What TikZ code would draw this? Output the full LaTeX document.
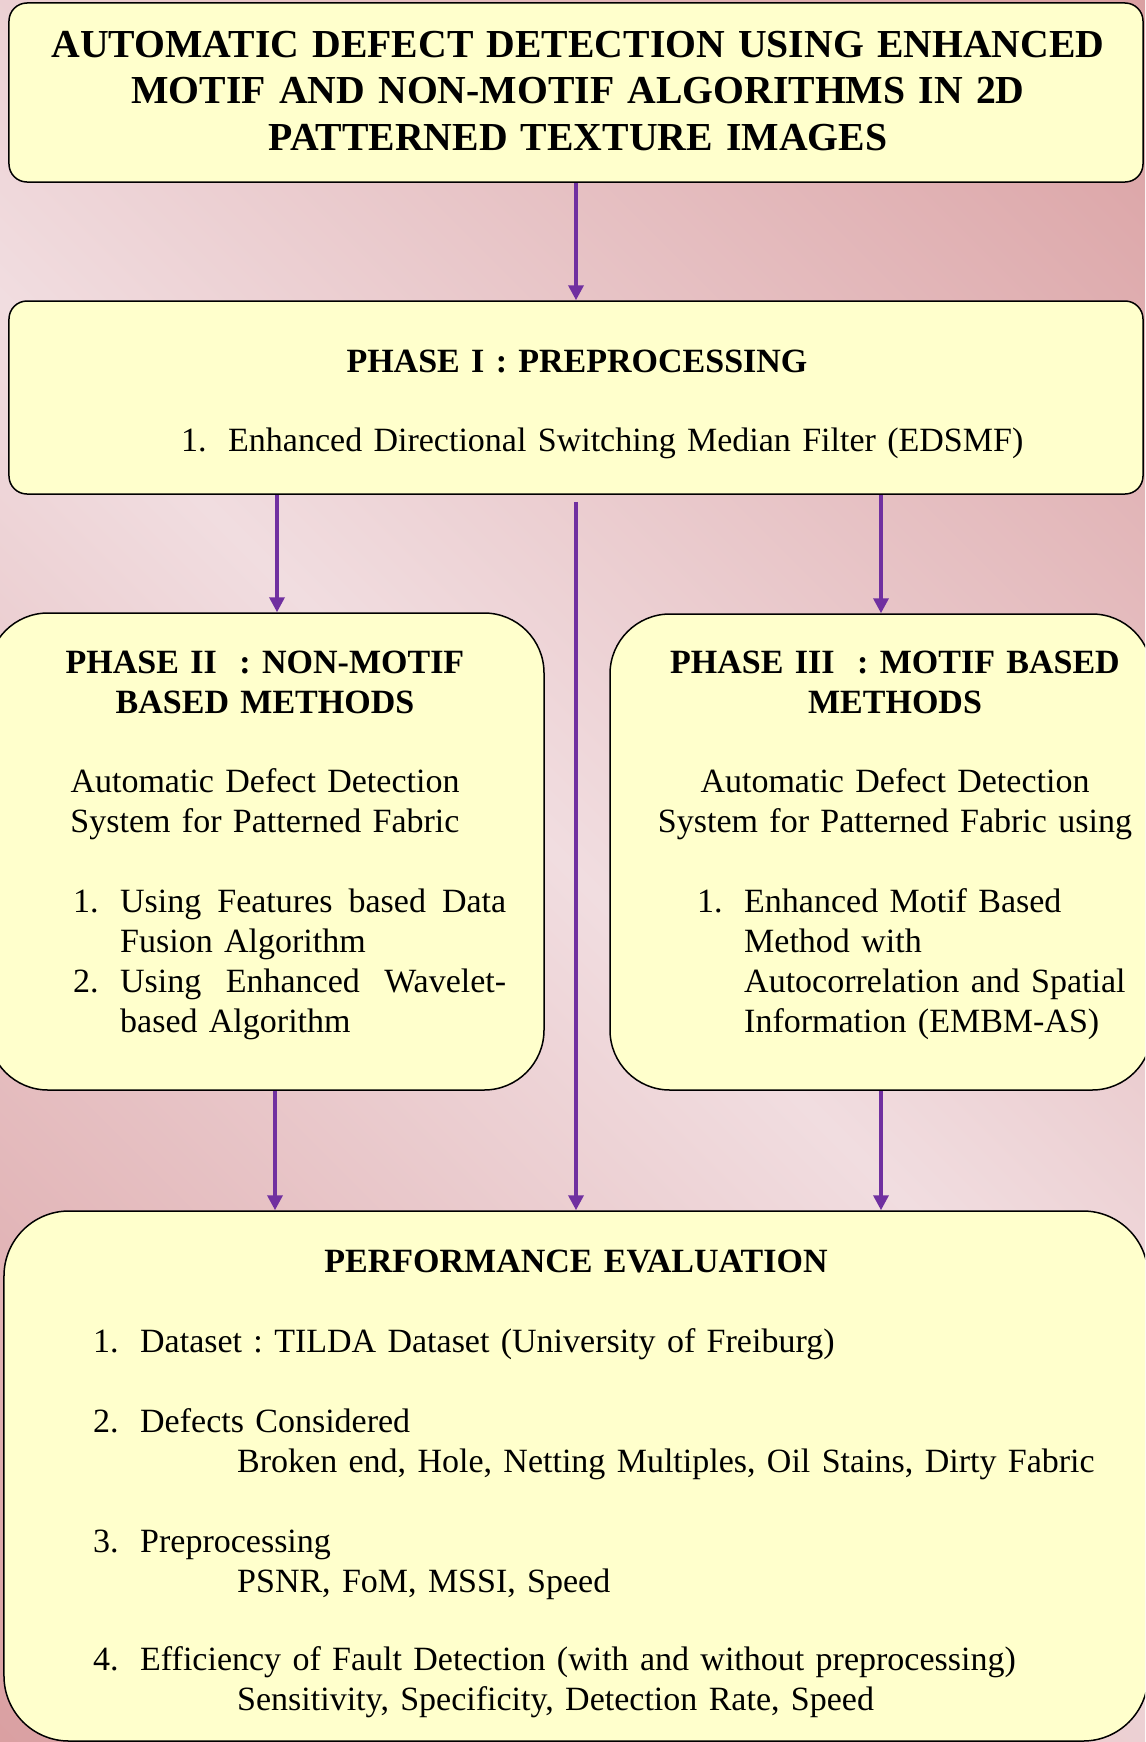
\documentclass[tikz,border=0pt]{standalone}
\usepackage{fontspec}
\setmainfont{Liberation Serif}
\usetikzlibrary{arrows.meta}
\setlength{\parindent}{0pt}
\frenchspacing
\definecolor{boxfill}{RGB}{255,255,204}
\definecolor{flowpurple}{RGB}{112,48,160}
\definecolor{bgdark}{RGB}{218,160,162}
\definecolor{bglight}{RGB}{241,221,224}
\pgfdeclareverticalshading{bgshade}{100bp}{color(0bp)=(bgdark); color(14.6bp)=(bgdark); color(50bp)=(bglight); color(85.4bp)=(bgdark); color(100bp)=(bgdark)}
\newcommand{\numlabel}[1]{\makebox[47bp][l]{#1}}
\newcommand{\hang}{\hspace*{47bp}}
\tikzset{
  bigbox/.style={draw=black, line width=1.5bp, fill=boxfill, rounded corners=60bp, inner sep=0pt},
  flatbox/.style={bigbox, rounded corners=18bp},
  txt/.style={inner sep=0pt, font=\fontsize{34bp}{40bp}\selectfont},
  head/.style={txt, font=\fontsize{34bp}{40bp}\selectfont\bfseries, align=center, text width=520bp}
}
\tikzstyle{arrow} = [line width=3.5bp, flowpurple, -{Triangle[width=15bp,length=15bp]}]

\begin{document}
\begin{tikzpicture}[x=1bp, y=-1bp]
  \useasboundingbox (0,0) rectangle (1145,1742);
  \clip (0,0) rectangle (1145,1742);
  \shade[shading=bgshade, shading angle=-45] (0,0) rectangle (1145,1742);

  \node[flatbox, minimum width=1134bp, minimum height=179bp] (title) at (576,92.5) {};
  \node[head, text width=1100bp, font=\fontsize{39.7bp}{46.6bp}\selectfont\bfseries, anchor=base] (titletxt) at (578,57)
    {AUTOMATIC DEFECT DETECTION USING ENHANCED\\MOTIF AND NON-MOTIF ALGORITHMS IN 2D\\PATTERNED TEXTURE IMAGES};

  \node[flatbox, minimum width=1134bp, minimum height=193bp] (ph1) at (576,397.5) {};
  \node[head, anchor=base] (ph1head) at (577,372.5) {PHASE I : PREPROCESSING};
  \node[txt, text width=900bp, align=left, anchor=base west] (ph1list) at (181,451)
    {\numlabel{1.}Enhanced Directional Switching Median Filter (EDSMF)};

  \node[bigbox, minimum width=556bp, minimum height=477bp] (ph2) at (266,851.5) {};
  \node[head, anchor=base] (ph2head) at (265,673.5) {PHASE II\ \ : NON-MOTIF\\BASED METHODS};
  \node[txt, text width=480bp, align=center, anchor=base] (ph2desc) at (265,792.5)
    {Automatic Defect Detection\\System for Patterned Fabric};
  \node[txt, text width=433bp, align=left, anchor=base west] (ph2list) at (73,912.5)
    {\numlabel{1.}\makebox[386bp][l]{Using\hfill Features\hfill based\hfill Data}\\
     \hang Fusion Algorithm\\
     \numlabel{2.}\makebox[386bp][l]{Using\hfill Enhanced\hfill Wavelet-}\\
     \hang based Algorithm};

  \node[bigbox, minimum width=542bp, minimum height=476bp] (ph3) at (881,852) {};
  \node[head, anchor=base] (ph3head) at (895,673.5) {PHASE III\ \ : MOTIF BASED\\METHODS};
  \node[txt, text width=500bp, align=center, anchor=base] (ph3desc) at (895,792.5)
    {Automatic Defect Detection\\System for Patterned Fabric using};
  \node[txt, text width=440bp, align=left, anchor=base west] (ph3list) at (697,912.5)
    {\numlabel{1.}Enhanced Motif Based\\
     \hang Method with\\
     \hang Autocorrelation and Spatial\\
     \hang Information (EMBM-AS)};

  \node[bigbox, rounded corners=65bp, minimum width=1144bp, minimum height=530bp] (perf) at (576,1476) {};
  \node[head, text width=1000bp, anchor=base] (perfhead) at (576,1272.5) {PERFORMANCE EVALUATION};
  \node[txt, text width=1040bp, align=left, anchor=base west] (perflist) at (93,1352.5)
    {\numlabel{1.}Dataset : TILDA Dataset (University of Freiburg)\\[40bp]
     \numlabel{2.}Defects Considered\\
     \hspace*{144bp}Broken end, Hole, Netting Multiples, Oil Stains, Dirty Fabric\\[40bp]
     \numlabel{3.}Preprocessing\\
     \hspace*{144bp}PSNR, FoM, MSSI, Speed\\[38bp]
     \numlabel{4.}Efficiency of Fault Detection (with and without preprocessing)\\
     \hspace*{144bp}Sensitivity, Specificity, Detection Rate, Speed};

  \coordinate (ph2in) at ([xshift=11bp]ph2.north);
  \coordinate (ph2out) at ([xshift=9bp]ph2.south);
  \draw[arrow] (title) -- (ph1);
  \draw[arrow] (ph2in |- ph1.south) -- (ph2in);
  \draw[arrow] ([yshift=-7bp]ph1.south) -- (ph1.south |- perf.north);
  \draw[arrow] (ph3.north |- ph1.south) -- (ph3.north);
  \draw[arrow] (ph2out) -- (ph2out |- perf.north);
  \draw[arrow] (ph3.south) -- (ph3.south |- perf.north);
\end{tikzpicture}
\end{document}
